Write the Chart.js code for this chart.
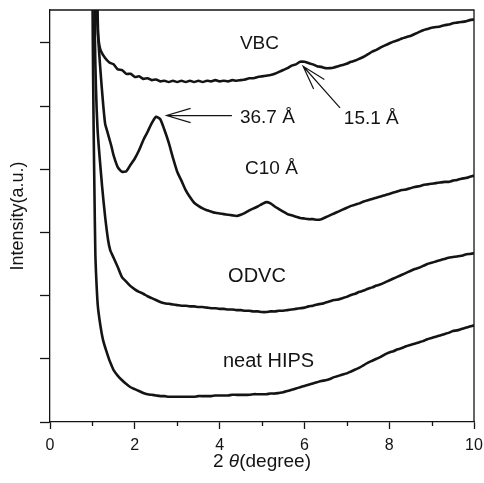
<!DOCTYPE html>
<html>
<head>
<meta charset="utf-8">
<script src="https://cdn.jsdelivr.net/npm/chart.js@4.4.1/dist/chart.umd.min.js"></script>
<style>
  html, body { margin: 0; padding: 0; background: #fff; }
  #c { display: block; }
</style>
</head>
<body>
<canvas id="c" width="484" height="483"></canvas>
<script>
// 2θ grid shared by the flat part of every pattern
const angleGrid = [
  1.5,1.6,1.7,1.8,1.9,2.0,2.1,2.2,2.3,2.4,
  2.5,2.6,2.7,2.8,2.9,3.0,3.1,3.2,3.3,3.4,
  3.5,3.6,3.7,3.8,3.9,4.0,4.1,4.2,4.3,4.4,
  4.5,4.6,4.7,4.8,4.9,5.0,5.1,5.2,5.3,5.4,
  5.5,5.6,5.7,5.8,5.9,6.0,6.1,6.2,6.3,6.4,
  6.5,6.6,6.7,6.8,6.9,7.0,7.1,7.2,7.3,7.4,
  7.5,7.6,7.7,7.8,7.9,8.0,8.1,8.2,8.3,8.4,
  8.5,8.6,8.7,8.8,8.9,9.0,9.1,9.2,9.3,9.4,
  9.5,9.6,9.7,9.8,9.9,10.0
];

// steep low-angle rise of each pattern (goes off the top of the frame)
const vbcHeadAngle  = [1.08, 1.10, 1.13, 1.16, 1.20, 1.30, 1.40];
const vbcHeadValue  = [8.0, 6.70, 6.15, 5.98, 5.87, 5.76, 5.69];
const c10HeadAngle  = [1.10, 1.12, 1.14, 1.18, 1.22, 1.26, 1.30, 1.35, 1.40, 1.45];
const c10HeadValue  = [8.0, 6.60, 6.05, 5.65, 5.30, 4.98, 4.72, 4.60, 4.48, 4.36];
const odvcHeadAngle = [1.05, 1.06, 1.12, 1.23, 1.30, 1.37, 1.42];
const odvcHeadValue = [8.0, 6.05, 4.65, 3.72, 3.25, 2.88, 2.72];
const hipsHeadAngle = [0.99, 1.01, 1.03, 1.05, 1.07, 1.10, 1.13, 1.19, 1.25, 1.32, 1.40, 1.45];
const hipsHeadValue = [8.0, 6.00, 4.60, 3.55, 2.65, 2.15, 1.82, 1.52, 1.30, 1.14, 0.98, 0.90];

// intensities (offset, a.u.) on angleGrid
const vbcValue = [
  5.66,5.58,5.57,5.51,5.51,5.46,5.47,5.43,5.44,5.41,
  5.42,5.39,5.40,5.38,5.40,5.38,5.40,5.38,5.40,5.38,
  5.40,5.38,5.40,5.39,5.41,5.39,5.40,5.39,5.41,5.40,
  5.41,5.42,5.44,5.44,5.46,5.47,5.48,5.49,5.51,5.54,
  5.57,5.60,5.64,5.66,5.70,5.70,5.68,5.66,5.63,5.62,
  5.60,5.60,5.61,5.63,5.65,5.67,5.70,5.72,5.75,5.78,
  5.82,5.86,5.89,5.93,5.96,5.99,6.02,6.04,6.07,6.09,
  6.11,6.14,6.17,6.20,6.22,6.24,6.25,6.26,6.28,6.29,
  6.31,6.32,6.33,6.34,6.36,6.37
];
const c10Value = [
  4.22,4.03,3.96,3.97,4.07,4.17,4.30,4.46,4.59,4.73,
  4.83,4.79,4.62,4.42,4.18,3.96,3.82,3.67,3.56,3.47,
  3.42,3.38,3.35,3.33,3.31,3.30,3.29,3.28,3.27,3.26,
  3.28,3.31,3.35,3.38,3.41,3.45,3.48,3.46,3.41,3.37,
  3.33,3.29,3.27,3.25,3.23,3.22,3.21,3.21,3.20,3.21,
  3.24,3.27,3.30,3.33,3.36,3.39,3.42,3.44,3.46,3.49,
  3.51,3.53,3.55,3.57,3.59,3.61,3.63,3.65,3.67,3.68,
  3.70,3.72,3.73,3.75,3.76,3.77,3.78,3.79,3.80,3.80,
  3.82,3.83,3.85,3.86,3.88,3.90
];
const odvcValue = [
  2.60,2.45,2.29,2.22,2.15,2.10,2.06,2.03,1.99,1.96,
  1.93,1.90,1.88,1.87,1.86,1.85,1.84,1.84,1.83,1.83,
  1.82,1.82,1.81,1.80,1.80,1.79,1.79,1.78,1.78,1.77,
  1.77,1.76,1.76,1.75,1.75,1.74,1.74,1.75,1.75,1.76,
  1.76,1.77,1.78,1.79,1.80,1.81,1.83,1.84,1.86,1.87,
  1.89,1.91,1.93,1.94,1.96,1.98,2.01,2.03,2.06,2.08,
  2.11,2.13,2.16,2.18,2.21,2.24,2.27,2.30,2.33,2.36,
  2.39,2.42,2.44,2.47,2.50,2.52,2.54,2.56,2.58,2.60,
  2.61,2.62,2.63,2.65,2.66,2.67
];
const hipsValue = [
  0.82,0.73,0.66,0.60,0.55,0.52,0.49,0.46,0.44,0.43,
  0.42,0.41,0.41,0.40,0.40,0.40,0.40,0.40,0.40,0.40,
  0.41,0.41,0.41,0.41,0.42,0.42,0.42,0.42,0.43,0.43,
  0.43,0.43,0.43,0.44,0.44,0.44,0.44,0.45,0.45,0.46,
  0.47,0.49,0.51,0.53,0.55,0.57,0.59,0.61,0.63,0.65,
  0.66,0.68,0.71,0.73,0.75,0.77,0.80,0.83,0.86,0.90,
  0.94,0.97,1.00,1.03,1.07,1.10,1.12,1.15,1.17,1.20,
  1.22,1.24,1.26,1.28,1.31,1.33,1.35,1.37,1.39,1.41,
  1.44,1.45,1.47,1.49,1.51,1.53
];

const xTicks = [0, 2, 4, 6, 8, 10];
const xMinorTicks = [1, 3, 5, 7, 9];
const yTicks = [0, 1, 2, 3, 4, 5, 6];

const ink = '#141414';
const FONT = '"Liberation Sans", Arial, sans-serif';

// curve labels and arrows, placed in data coordinates
const notes = [
  { text: 'VBC',       x: 4.48, y: 5.98, size: 19 },
  { text: '36.7 Å',    x: 4.48, y: 4.82, size: 19 },
  { text: '15.1 Å',    x: 6.93, y: 4.80, size: 19 },
  { text: 'C10 Å',     x: 4.60, y: 4.00, size: 19 },
  { text: 'ODVC',      x: 4.20, y: 2.31, size: 20 },
  { text: 'neat HIPS', x: 4.08, y: 0.96, size: 20 }
];
const arrows = [
  { from: [4.29, 4.85], to: [2.75, 4.85] },
  { from: [6.84, 4.97], to: [5.97, 5.63] }
];

function pts(headA, headV, vals) {
  return headA.map((x, i) => ({ x, y: headV[i] }))
    .concat(angleGrid.map((x, i) => ({ x, y: vals[i] })));
}

function curve(label, data) {
  return { label, data, borderColor: ink, borderWidth: 2.6, pointRadius: 0, tension: 0.2, fill: false };
}

const decor = {
  id: 'decor',
  afterDraw(chart) {
    const { ctx, chartArea: a, scales: { x, y } } = chart;
    ctx.save();
    ctx.strokeStyle = ink;
    ctx.fillStyle = ink;
    ctx.lineWidth = 1.3;

    // top + right frame
    ctx.beginPath();
    ctx.moveTo(a.left, a.top);
    ctx.lineTo(a.right, a.top);
    ctx.lineTo(a.right, a.bottom);
    ctx.stroke();

    // minor x ticks
    ctx.beginPath();
    xMinorTicks.forEach(v => {
      const px = Math.round(x.getPixelForValue(v)) + 0.5;
      ctx.moveTo(px, a.bottom);
      ctx.lineTo(px, a.bottom + 4);
    });
    ctx.stroke();

    // labels
    ctx.textBaseline = 'middle';
    ctx.textAlign = 'left';
    notes.forEach(n => {
      ctx.font = n.size + 'px ' + FONT;
      ctx.fillText(n.text, x.getPixelForValue(n.x), y.getPixelForValue(n.y));
    });

    // arrows with open heads
    ctx.lineWidth = 1.2;
    arrows.forEach(ar => {
      const x0 = x.getPixelForValue(ar.from[0]), y0 = y.getPixelForValue(ar.from[1]);
      const x1 = x.getPixelForValue(ar.to[0]), y1 = y.getPixelForValue(ar.to[1]);
      const ang = Math.atan2(y0 - y1, x0 - x1);
      const len = 25, spread = 0.29;
      ctx.beginPath();
      ctx.moveTo(x0, y0);
      ctx.lineTo(x1, y1);
      ctx.moveTo(x1 + len * Math.cos(ang - spread), y1 + len * Math.sin(ang - spread));
      ctx.lineTo(x1, y1);
      ctx.lineTo(x1 + len * Math.cos(ang + spread), y1 + len * Math.sin(ang + spread));
      ctx.stroke();
    });

    // x title with italic theta
    const cx = (a.left + a.right) / 2, cy = 462;
    const parts = [
      { t: '2 ', f: '19px ' + FONT },
      { t: 'θ', f: 'italic 19px ' + FONT },
      { t: '(degree)', f: '19px ' + FONT }
    ];
    let total = 0;
    parts.forEach(p => { ctx.font = p.f; p.w = ctx.measureText(p.t).width; total += p.w; });
    let px = cx - total / 2;
    parts.forEach(p => { ctx.font = p.f; ctx.fillText(p.t, px, cy); px += p.w; });
    ctx.restore();
  }
};

new Chart(document.getElementById('c'), {
  type: 'line',
  data: {
    datasets: [
      curve('VBC', pts(vbcHeadAngle, vbcHeadValue, vbcValue)),
      curve('C10 Å', pts(c10HeadAngle, c10HeadValue, c10Value)),
      curve('ODVC', pts(odvcHeadAngle, odvcHeadValue, odvcValue)),
      curve('neat HIPS', pts(hipsHeadAngle, hipsHeadValue, hipsValue))
    ]
  },
  options: {
    responsive: false,
    animation: false,
    devicePixelRatio: 1,
    layout: { padding: { top: 10, right: 10, left: 0, bottom: 0 } },
    plugins: { legend: { display: false }, tooltip: { enabled: false } },
    scales: {
      x: {
        type: 'linear',
        min: 0,
        max: 10,
        afterFit: s => { s.height = 61; s.paddingLeft = 0; s.paddingRight = 0; },
        afterBuildTicks: s => { s.ticks = xTicks.map(v => ({ value: v })); },
        ticks: { color: ink, font: { family: FONT, size: 16 }, padding: 7, maxRotation: 0 },
        grid: { drawOnChartArea: false, color: ink, tickLength: 7, tickWidth: 1.3 },
        border: { color: ink, width: 1.3 }
      },
      y: {
        min: 0,
        max: 6.52,
        afterFit: s => { s.width = 50; s.paddingTop = 0; s.paddingBottom = 0; },
        afterBuildTicks: s => { s.ticks = yTicks.map(v => ({ value: v })); },
        ticks: { display: false },
        grid: { drawOnChartArea: false, color: ink, tickLength: 10, tickWidth: 1.3 },
        border: { color: ink, width: 1.3 },
        title: {
          display: true,
          text: 'Intensity(a.u.)',
          color: ink,
          font: { family: FONT, size: 18 },
          padding: { top: 7, bottom: 0 }
        }
      }
    }
  },
  plugins: [decor]
});
</script>
</body>
</html>
